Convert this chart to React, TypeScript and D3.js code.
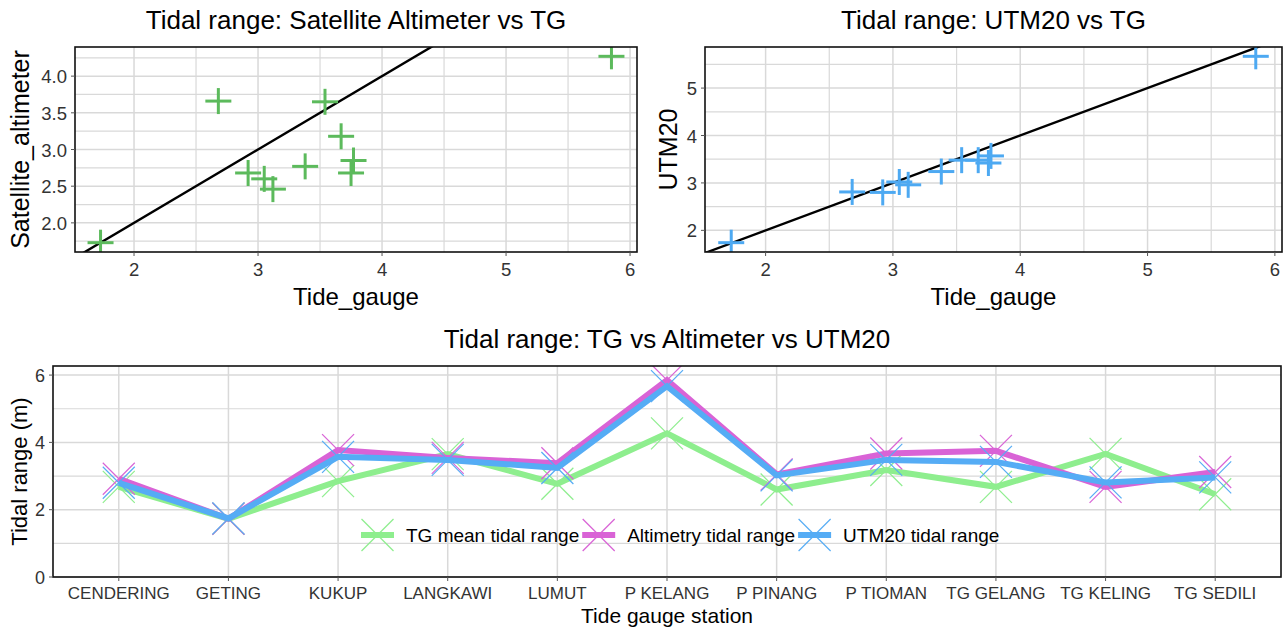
import React from "react";
import * as d3 from "d3";

const stations = [
  "CENDERING", "GETING", "KUKUP", "LANGKAWI", "LUMUT", "P KELANG",
  "P PINANG", "P TIOMAN", "TG GELANG", "TG KELING", "TG SEDILI",
];
const tideGauge = [2.92, 1.73, 3.77, 3.54, 3.38, 5.85, 3.05, 3.67, 3.75, 2.68, 3.12];
const satelliteAltimeter = [2.68, 1.73, 2.85, 3.65, 2.77, 4.27, 2.6, 3.18, 2.68, 3.66, 2.46];
const utm20 = [2.8, 1.74, 3.57, 3.48, 3.24, 5.67, 3.02, 3.48, 3.42, 2.81, 2.96];

const lineLabels = ["TG mean tidal range", "Altimetry tidal range", "UTM20 tidal range"];
const lineValues = [satelliteAltimeter, tideGauge, utm20];
const lineColors = ["#8eee8e", "#d963d6", "#55acf5"];

const FONT = "'Liberation Sans', Arial, Helvetica, sans-serif";
const GRID = "#d9d9d9";
const TICK_TEXT = "#333333";

function expanded(vals: number[]): [number, number] {
  const [a, b] = d3.extent(vals) as [number, number];
  const r = b - a;
  return [a - 0.05 * r, b + 0.05 * r];
}

function minorOf(domain: number[], ticks: number[]): number[] {
  const s = ticks[1] - ticks[0];
  const out: number[] = [];
  for (let v = ticks[0] - s / 2; v <= domain[1] + 1e-9; v += s) {
    if (v >= domain[0]) out.push(v);
  }
  return out;
}

const measureCtx =
  typeof document !== "undefined" ? document.createElement("canvas").getContext("2d") : null;
function textWidth(t: string, size: number) {
  if (!measureCtx) return t.length * size * 0.5;
  measureCtx.font = `${size}px 'Liberation Sans', Arial, sans-serif`;
  return measureCtx.measureText(t).width;
}

type ScatterProps = {
  id: string;
  left: number;
  right: number;
  top: number;
  bottom: number;
  xs: number[];
  ys: number[];
  color: string;
  title: string;
  xTitle: string;
  yTitle: string;
  yTitleX: number;
  yFmt: (v: number) => string;
};

function Scatter(p: ScatterProps) {
  const x = d3.scaleLinear().domain(expanded(p.xs)).range([p.left, p.right]);
  const y = d3.scaleLinear().domain(expanded(p.ys)).range([p.bottom, p.top]);
  const xt = x.ticks(5);
  const yt = y.ticks(5);
  const xm = minorOf(x.domain(), xt);
  const ym = minorOf(y.domain(), yt);
  const [d0, d1] = x.domain();
  const cx = (p.left + p.right) / 2;
  const cy = (p.top + p.bottom) / 2;
  const arm = 13;
  return (
    <g>
      <clipPath id={p.id}>
        <rect x={p.left} y={p.top} width={p.right - p.left} height={p.bottom - p.top} />
      </clipPath>
      <rect x={p.left} y={p.top} width={p.right - p.left} height={p.bottom - p.top} fill="#fff" />
      {xm.map((v) => (
        <line key={"xm" + v} x1={x(v)} x2={x(v)} y1={p.top} y2={p.bottom} stroke={GRID} strokeWidth={1.2} />
      ))}
      {ym.map((v) => (
        <line key={"ym" + v} x1={p.left} x2={p.right} y1={y(v)} y2={y(v)} stroke={GRID} strokeWidth={1.2} />
      ))}
      {xt.map((v) => (
        <line key={"xt" + v} x1={x(v)} x2={x(v)} y1={p.top} y2={p.bottom} stroke={GRID} strokeWidth={1.5} />
      ))}
      {yt.map((v) => (
        <line key={"yt" + v} x1={p.left} x2={p.right} y1={y(v)} y2={y(v)} stroke={GRID} strokeWidth={1.5} />
      ))}
      <g clipPath={`url(#${p.id})`}>
        <line x1={x(d0)} y1={y(d0)} x2={x(d1)} y2={y(d1)} stroke="#000" strokeWidth={2.4} />
        {p.xs.map((xv, i) => (
          <g key={i} stroke={p.color} strokeWidth={3}>
            <line x1={x(xv) - arm} x2={x(xv) + arm} y1={y(p.ys[i])} y2={y(p.ys[i])} />
            <line x1={x(xv)} x2={x(xv)} y1={y(p.ys[i]) - arm} y2={y(p.ys[i]) + arm} />
          </g>
        ))}
      </g>
      <rect x={p.left} y={p.top} width={p.right - p.left} height={p.bottom - p.top} fill="none" stroke="#111" strokeWidth={1.6} />
      {xt.map((v) => (
        <g key={"xl" + v}>
          <line x1={x(v)} x2={x(v)} y1={p.bottom} y2={p.bottom + 4} stroke="#555" strokeWidth={1} />
          <text x={x(v)} y={276} textAnchor="middle" fontSize={18.5} fill={TICK_TEXT} fontFamily={FONT}>
            {String(v)}
          </text>
        </g>
      ))}
      {yt.map((v) => (
        <g key={"yl" + v}>
          <line x1={p.left - 4} x2={p.left} y1={y(v)} y2={y(v)} stroke="#555" strokeWidth={1} />
          <text x={p.left - 8} y={y(v) + 7} textAnchor="end" fontSize={18.5} fill={TICK_TEXT} fontFamily={FONT}>
            {p.yFmt(v)}
          </text>
        </g>
      ))}
      <text x={cx} y={29} textAnchor="middle" fontSize={26} fontFamily={FONT} fill="#000">
        {p.title}
      </text>
      <text x={cx} y={305} textAnchor="middle" fontSize={24} fontFamily={FONT} fill="#000">
        {p.xTitle}
      </text>
      <text
        transform={`translate(${p.yTitleX},${cy}) rotate(-90)`}
        textAnchor="middle"
        fontSize={25}
        fontFamily={FONT}
        fill="#000"
      >
        {p.yTitle}
      </text>
    </g>
  );
}

function Cross({ cx, cy, r, color, w }: { cx: number; cy: number; r: number; color: string; w: number }) {
  return (
    <g stroke={color} strokeWidth={w}>
      <line x1={cx - r} y1={cy - r} x2={cx + r} y2={cy + r} />
      <line x1={cx - r} y1={cy + r} x2={cx + r} y2={cy - r} />
    </g>
  );
}

function LinePanel() {
  const left = 53, right = 1281, top = 366, bottom = 577;
  const x = d3.scalePoint<string>().domain(stations).range([left, right]).padding(0.6);
  const y = d3.scaleLinear().domain([0, 6.27]).range([bottom, top]);
  const yt = y.ticks(4);
  const ym = minorOf(y.domain(), yt);
  const line = d3
    .line<number>()
    .x((_, i) => x(stations[i]) as number)
    .y((v) => y(v));

  // legend row laid out left to right from measured label widths
  const legendY = 535;
  let lx = 361;
  const legendItems = lineLabels.map((lab, i) => {
    const keyX = lx;
    const textX = keyX + 33 + 12;
    lx = textX + textWidth(lab, 19) + 3;
    return { lab, keyX, textX, color: lineColors[i] };
  });

  return (
    <g>
      <clipPath id="clipBottom">
        <rect x={left} y={top} width={right - left} height={bottom - top} />
      </clipPath>
      <rect x={left} y={top} width={right - left} height={bottom - top} fill="#fff" />
      {ym.map((v) => (
        <line key={"m" + v} x1={left} x2={right} y1={y(v)} y2={y(v)} stroke={GRID} strokeWidth={1.2} />
      ))}
      {yt.map((v) => (
        <line key={"t" + v} x1={left} x2={right} y1={y(v)} y2={y(v)} stroke={GRID} strokeWidth={1.5} />
      ))}
      {stations.map((s) => (
        <line key={s} x1={x(s)} x2={x(s)} y1={top} y2={bottom} stroke={GRID} strokeWidth={1.5} />
      ))}
      <g clipPath="url(#clipBottom)">
        {lineValues.map((vals, k) => (
          <g key={k}>
            <path d={line(vals) || ""} fill="none" stroke={lineColors[k]} strokeWidth={6} strokeLinejoin="miter" />
            {vals.map((v, i) => (
              <Cross key={i} cx={x(stations[i]) as number} cy={y(v)} r={16} color={lineColors[k]} w={1.2} />
            ))}
          </g>
        ))}
      </g>
      {legendItems.map((it) => (
        <g key={it.lab}>
          <line x1={it.keyX} x2={it.keyX + 33} y1={legendY} y2={legendY} stroke={it.color} strokeWidth={6} />
          <Cross cx={it.keyX + 16.5} cy={legendY} r={16} color={it.color} w={1.2} />
          <text x={it.textX} y={legendY + 7} fontSize={19} fontFamily={FONT} fill="#000">
            {it.lab}
          </text>
        </g>
      ))}
      <rect x={left} y={top} width={right - left} height={bottom - top} fill="none" stroke="#111" strokeWidth={1.6} />
      {yt.map((v) => (
        <g key={"yl" + v}>
          <line x1={left - 4} x2={left} y1={y(v)} y2={y(v)} stroke="#555" strokeWidth={1} />
          <text x={left - 8} y={y(v) + 6.5} textAnchor="end" fontSize={18} fill={TICK_TEXT} fontFamily={FONT}>
            {String(v)}
          </text>
        </g>
      ))}
      {stations.map((s) => (
        <g key={"xl" + s}>
          <line x1={x(s)} x2={x(s)} y1={bottom} y2={bottom + 4} stroke="#555" strokeWidth={1} />
          <text x={x(s)} y={599} textAnchor="middle" fontSize={17} fill={TICK_TEXT} fontFamily={FONT}>
            {s}
          </text>
        </g>
      ))}
      <text x={(left + right) / 2} y={348} textAnchor="middle" fontSize={26} fontFamily={FONT} fill="#000">
        Tidal range: TG vs Altimeter vs UTM20
      </text>
      <text x={(left + right) / 2} y={623} textAnchor="middle" fontSize={21} fontFamily={FONT} fill="#000">
        Tide gauge station
      </text>
      <text
        transform={`translate(27,${(top + bottom) / 2}) rotate(-90)`}
        textAnchor="middle"
        fontSize={22}
        fontFamily={FONT}
        fill="#000"
      >
        Tidal range (m)
      </text>
    </g>
  );
}

export default function App() {
  return (
    <svg
      width={1287}
      height={629}
      style={{ position: "absolute", left: 0, top: 0, background: "#fff" }}
    >
      <rect width={1287} height={629} fill="#fff" />
      <Scatter
        id="clipAlt"
        left={75}
        right={637}
        top={47}
        bottom={252}
        xs={tideGauge}
        ys={satelliteAltimeter}
        color="#5cba5c"
        title="Tidal range: Satellite Altimeter vs TG"
        xTitle="Tide_gauge"
        yTitle="Satellite_altimeter"
        yTitleX={29}
        yFmt={(v) => v.toFixed(1)}
      />
      <Scatter
        id="clipUtm"
        left={705}
        right={1282}
        top={47}
        bottom={252}
        xs={tideGauge}
        ys={utm20}
        color="#4da9f2"
        title="Tidal range: UTM20 vs TG"
        xTitle="Tide_gauge"
        yTitle="UTM20"
        yTitleX={677}
        yFmt={(v) => String(v)}
      />
      <LinePanel />
    </svg>
  );
}
